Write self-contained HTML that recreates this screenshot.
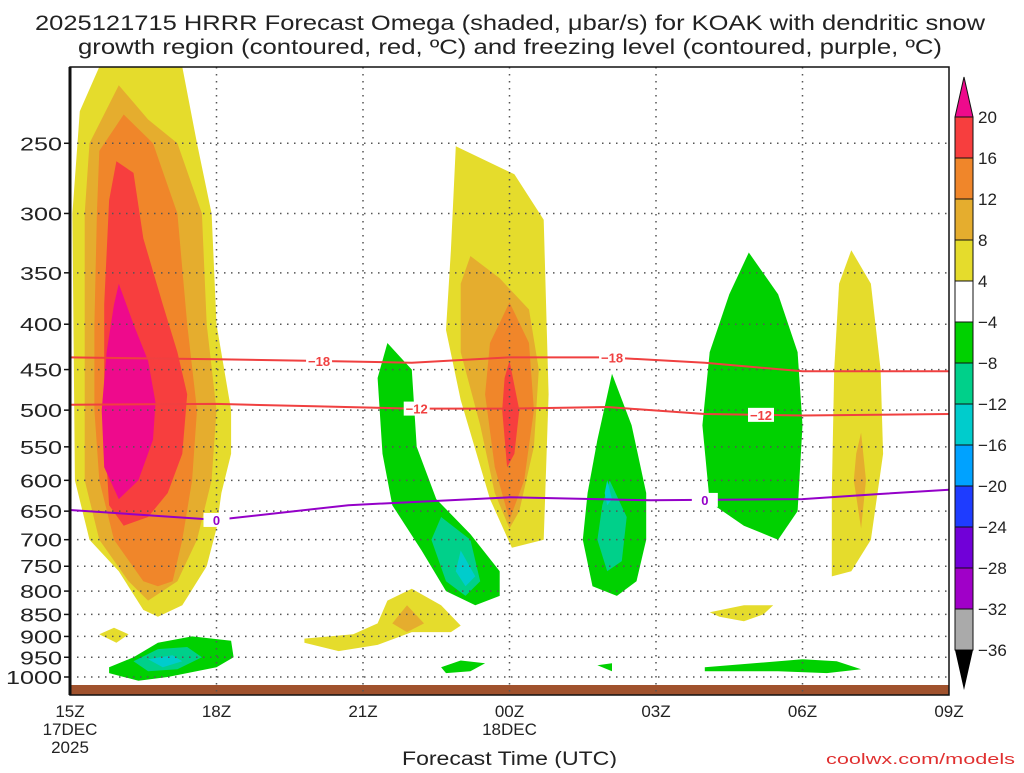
<!DOCTYPE html>
<html><head><meta charset="utf-8"><style>
body{margin:0;background:#fff;width:1024px;height:768px;overflow:hidden;font-family:"Liberation Sans",sans-serif}
</style></head><body>
<svg id="chart" width="1024" height="768" viewBox="0 0 1024 768" xmlns="http://www.w3.org/2000/svg" font-family="Liberation Sans, sans-serif">
<text x="35" y="30" textLength="950" lengthAdjust="spacingAndGlyphs" font-size="21" fill="#222">2025121715 HRRR Forecast Omega (shaded, μbar/s) for KOAK with dendritic snow</text>
<text x="78" y="54" textLength="864" lengthAdjust="spacingAndGlyphs" font-size="21" fill="#222">growth region (contoured, red, ºC) and freezing level (contoured, purple, ºC)</text>
<g id="fills"></g><g id="grid"></g><g id="lines"></g><g id="axes"></g><g id="cbar"></g>
<text x="402" y="765" textLength="215" lengthAdjust="spacingAndGlyphs" font-size="19" fill="#222">Forecast Time (UTC)</text>
<text x="826" y="764" textLength="189" lengthAdjust="spacingAndGlyphs" font-size="15" fill="#e03030">coolwx.com/models</text>
</svg>
<script>
const NS="http://www.w3.org/2000/svg";
const X0=70,X1=949,Y0=67,Y1=695,HOURS=18;
const pTicks=[250,300,350,400,450,500,550,600,650,700,750,800,850,900,950,1000];
const hTicks=[0,3,6,9,12,15,18];
const hLabels=["15Z","18Z","21Z","00Z","03Z","06Z","09Z"];
const cbLevels=["20","16","12","8","4","−4","−8","−12","−16","−20","−24","−28","−32","−36"];
const cbColors=["#f73e3e","#f0862a","#e5ad2e","#e5dc2c","#ffffff","#00d100","#00d08a","#00cccc","#00a2ff","#1e3cff","#7100d8","#a000c8","#aaaaaa"];
// contour lines: hours and pressures (hPa)
const m18Hours=[0,3,5,7,9,11,13,15,18];
const m18Press=[436,438,440,442,436,436,442,452,452];
const m12Hours=[0,3,5,7,9,11,13,15,18];
const m12Press=[493,492,495,498,498,496,505,507,505];
const frzHours=[0,3,5.7,9,11.9,15,16.5,18];
const frzPress=[648,665,640,627,632,630,622,615];
// shaded omega regions: [hour,pressure] vertices
const yellowRegions=[
[[0.6,205],[2.3,205],[2.6,250],[2.9,300],[3.0,400],[3.3,500],[3.3,560],[3.1,620],[3.0,680],[2.8,750],[2.3,830],[1.8,855],[1.5,840],[1.0,760],[0.4,700],[0.1,600],[0.05,300],[0.2,230]],
[[7.9,252],[9.1,271],[9.7,305],[9.8,480],[9.7,700],[9.05,715],[8.6,630],[8.0,487],[7.7,406],[7.8,330]],
[[16.0,330],[16.4,360],[16.6,450],[16.65,560],[16.4,700],[16.0,760],[15.6,770],[15.6,620],[15.65,450],[15.75,360]],
[[13.1,845],[13.8,830],[14.4,830],[14.2,850],[13.8,865],[13.3,855]],
[[4.8,905],[5.8,895],[6.3,870],[6.5,820],[7.0,795],[7.6,830],[8.0,875],[7.8,890],[7.0,890],[6.3,920],[5.5,935],[4.8,915]],
[[0.6,895],[0.9,880],[1.2,895],[0.95,915]]];
const goldRegions=[
[[1.0,215],[1.6,235],[2.2,250],[2.7,300],[2.8,400],[3.0,500],[2.9,600],[2.6,700],[2.2,780],[1.6,820],[1.2,780],[0.6,700],[0.3,600],[0.3,500],[0.3,400],[0.3,300],[0.4,250]],
[[8.2,335],[8.8,355],[9.4,385],[9.6,450],[9.5,550],[9.2,650],[9.0,680],[8.7,620],[8.4,520],[8.0,430],[8.0,360]],
[[16.2,530],[16.3,600],[16.2,680],[16.05,600],[16.1,560]],
[[6.9,830],[7.25,870],[6.9,890],[6.6,870]]];
const orangeRegions=[
[[1.1,232],[1.7,250],[2.2,300],[2.4,400],[2.6,500],[2.5,600],[2.3,700],[2.1,780],[1.8,790],[1.5,780],[0.9,700],[0.6,600],[0.5,500],[0.5,400],[0.55,300],[0.6,255]],
[[9.0,378],[9.4,420],[9.5,500],[9.3,600],[9.0,665],[8.7,580],[8.5,480],[8.6,420]]];
const redRegions=[
[[0.95,262],[1.3,270],[1.5,320],[1.9,380],[2.2,430],[2.4,480],[2.3,560],[2.0,620],[1.6,660],[1.1,675],[0.8,640],[0.7,520],[0.7,380],[0.8,290]],
[[9.0,440],[9.2,500],[9.1,560],[8.95,580],[8.85,500],[8.9,460]]];
const magentaRegions=[
[[1.0,360],[1.3,400],[1.6,440],[1.75,490],[1.7,540],[1.4,600],[1.0,630],[0.7,580],[0.65,500],[0.75,430],[0.9,380]]];
const greenRegions=[
[[6.5,420],[7.0,450],[7.1,550],[7.5,630],[8.2,690],[8.8,760],[8.8,810],[8.3,830],[7.7,800],[7.2,720],[6.6,640],[6.4,560],[6.3,460]],
[[11.1,455],[11.5,520],[11.8,620],[11.8,700],[11.6,780],[11.2,810],[10.7,790],[10.5,700],[10.6,620],[10.8,540]],
[[13.9,332],[14.5,370],[14.9,430],[15.0,520],[14.9,650],[14.5,700],[13.8,675],[13.1,635],[12.95,520],[13.1,430],[13.5,370]],
[[0.8,975],[1.3,950],[1.8,915],[2.5,900],[3.3,910],[3.35,950],[3.0,975],[2.0,1000],[1.4,1010],[0.8,990]],
[[7.6,975],[8.0,958],[8.5,965],[8.2,985],[7.7,990]],
[[10.8,970],[11.1,965],[11.1,985]],
[[13.0,975],[14.0,965],[15.0,955],[15.7,960],[16.2,980],[15.5,990],[14.5,985],[13.0,985]]];
const tealRegions=[
[[7.6,660],[8.2,700],[8.4,780],[8.1,810],[7.7,780],[7.4,700]],
[[11.05,600],[11.4,660],[11.3,740],[11.0,760],[10.8,700],[10.9,640]],
[[1.3,960],[1.8,930],[2.4,925],[2.7,950],[2.2,980],[1.6,985]]];
const cyanRegions=[
[[8.0,720],[8.3,770],[8.1,790],[7.9,760]],
[[11.0,600],[11.1,630],[11.0,640],[10.95,620]],
[[1.6,955],[2.1,945],[2.3,960],[1.9,975]]];

function xs(h){return X0+(X1-X0)*h/HOURS;}
function ys(p){return 677-385*Math.log(1000/p);}
function mk(tag,attrs,parent){const e=document.createElementNS(NS,tag);for(const k in attrs)e.setAttribute(k,attrs[k]);parent.appendChild(e);return e;}
const fills=document.getElementById('fills');
const layers=[[yellowRegions,"#e5dc2c","yellow-region"],[goldRegions,"#e5ad2e","gold-region"],[orangeRegions,"#f0862a","orange-region"],[redRegions,"#f73e3e","red-region"],[magentaRegions,"#ee0a8c","magenta-region"],[greenRegions,"#00d100","green-region"],[tealRegions,"#00d08a","teal-region"],[cyanRegions,"#00cccc","cyan-region"]];
layers.forEach(([regs,col,name])=>{regs.forEach(r=>{
 const e=mk('polygon',{points:r.map(v=>xs(v[0]).toFixed(1)+','+ys(v[1]).toFixed(1)).join(' '),fill:col},fills);
 
 
});});
const gb=mk('rect',{x:X0,y:685,width:X1-X0,height:10,fill:"#a0522d"},fills);


const grid=document.getElementById('grid');
pTicks.forEach(p=>{
 const l=mk('line',{x1:X0,x2:X1,y1:ys(p),y2:ys(p),stroke:"#555","stroke-width":1.5,"stroke-dasharray":"1.5 5.5"},grid);
 
 
 const s=String(p);
 const t=mk('text',{x:62-s.length*14,y:ys(p)+7,textLength:s.length*14,lengthAdjust:"spacingAndGlyphs","font-size":18,fill:"#222"},grid);
 t.textContent=s;
 
 
});
hTicks.forEach((h,i)=>{
 if(h>0&&h<HOURS){const l=mk('line',{x1:xs(h),x2:xs(h),y1:Y0,y2:Y1,stroke:"#555","stroke-width":1.5,"stroke-dasharray":"1.5 5.5"},grid);
 
 }
 const t=mk('text',{x:xs(h),y:717,"text-anchor":"middle","font-size":17,fill:"#222"},grid);
 t.textContent=hLabels[i];
 
 
});
[["17DEC",0,735],["2025",0,753],["18DEC",9,735]].forEach(([s,h,y])=>{
 const t=mk('text',{x:xs(h),y:y,"text-anchor":"middle","font-size":17,fill:"#222"},grid);
 t.textContent=s;
 
 
});
const lines=document.getElementById('lines');
function drawLine(hs,ps,col,name,labels){
 const e=mk('polyline',{points:hs.map((h,i)=>xs(h).toFixed(1)+','+ys(ps[i]).toFixed(1)).join(' '),fill:"none",stroke:col,"stroke-width":2},lines);
 
 
 labels.forEach(([h,s])=>{
  let i=0;while(i<hs.length-2&&hs[i+1]<h)i++;
  const f=(h-hs[i])/(hs[i+1]-hs[i]);const p=ps[i]+(ps[i+1]-ps[i])*f;
  mk('rect',{x:xs(h)-13,y:ys(p)-7,width:26,height:14,fill:"#fff"},lines);
  const t=mk('text',{x:xs(h),y:ys(p)+5,"text-anchor":"middle","font-size":13,"font-weight":"bold",fill:col},lines);
  t.textContent=s;
  
  
 });
}
drawLine(m18Hours,m18Press,"#f04040","minus18-contour",[[5.1,"−18"],[11.1,"−18"]]);
drawLine(m12Hours,m12Press,"#f04040","minus12-contour",[[7.1,"−12"],[14.15,"−12"]]);
drawLine(frzHours,frzPress,"#9400c8","freezing-level",[[3,"0"],[13,"0"]]);
const ax=document.getElementById('axes');
const fr=mk('rect',{x:X0,y:Y0,width:X1-X0,height:Y1-Y0,fill:"none",stroke:"#111","stroke-width":1.5},ax);


mk('line',{x1:X0,x2:X0,y1:Y0,y2:Y1,stroke:"#111","stroke-width":3},ax);
pTicks.forEach(p=>{mk('line',{x1:X0-6,x2:X0,y1:ys(p),y2:ys(p),stroke:"#111","stroke-width":1.5},ax);});
const cb=document.getElementById('cbar');
const CBX=955,CBW=18,CBT=117,CBH=41;
const up=mk('polygon',{points:`${CBX},${CBT} ${CBX+CBW},${CBT} ${CBX+CBW/2},77`,fill:"#ee0a8c",stroke:"#111"},cb);


cbColors.forEach((c,i)=>{
 const r=mk('rect',{x:CBX,y:CBT+i*CBH,width:CBW,height:CBH,fill:c,stroke:"#111","stroke-width":1},cb);
 
 
});
const bot=CBT+cbColors.length*CBH;
const dn=mk('polygon',{points:`${CBX},${bot} ${CBX+CBW},${bot} ${CBX+CBW/2},${bot+40}`,fill:"#000"},cb);


cbLevels.forEach((s,i)=>{
 const t=mk('text',{x:978,y:CBT+i*CBH+6,"font-size":17,fill:"#222"},cb);
 t.textContent=s;
 
 
});
</script>
</body></html>
